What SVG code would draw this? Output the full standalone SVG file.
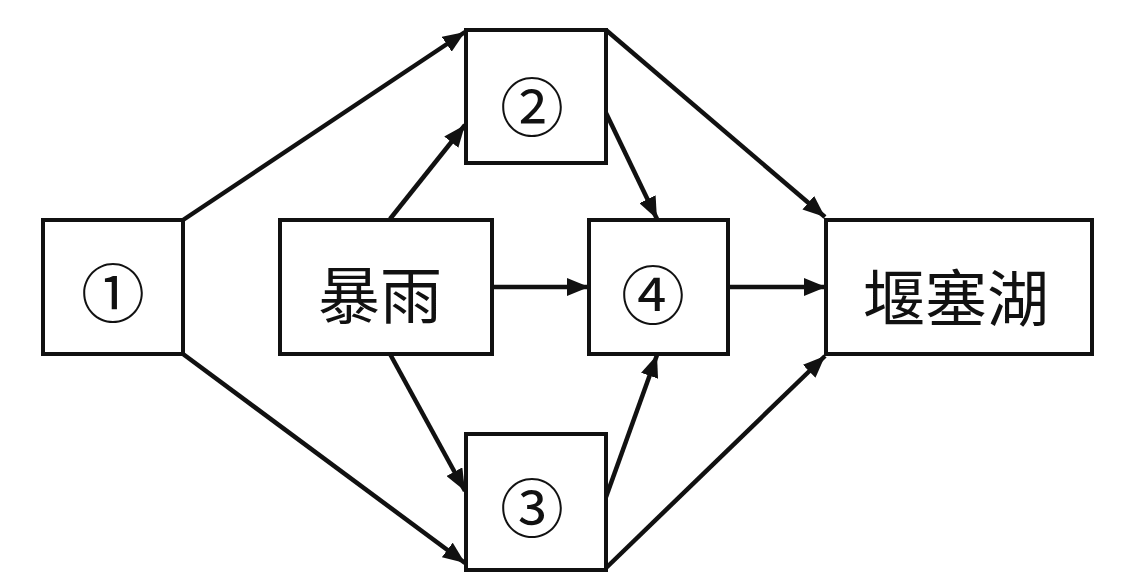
<svg xmlns="http://www.w3.org/2000/svg" width="1126" height="588" viewBox="0 0 1126 588">
<defs>
<style>
.box{fill:#fff;stroke:#111;stroke-width:4}
.lbl{font-family:"Noto Sans CJK SC","DejaVu Sans",sans-serif;font-size:62px;fill:#111;text-anchor:middle;dominant-baseline:central}
.num{font-family:"Noto Sans CJK SC","DejaVu Sans",sans-serif;font-size:64px;fill:#111;text-anchor:middle;dominant-baseline:central}
.edge{stroke:#111;stroke-width:4.5;fill:none;marker-end:url(#ah)}
</style>
<marker id="ah" markerUnits="userSpaceOnUse" viewBox="0 0 22 18" markerWidth="22" markerHeight="18" refX="22" refY="9" orient="auto">
<path d="M0,0 L22,9 L0,18 z" fill="#111"/>
</marker>
</defs>
<rect width="1126" height="588" fill="#fff"/>
<g id="connectors">
<line class="edge" x1="183" y1="220" x2="465" y2="32"/>
<line class="edge" x1="390" y1="219" x2="465" y2="125"/>
<line class="edge" x1="183" y1="354" x2="465" y2="563"/>
<line class="edge" x1="390" y1="354" x2="465" y2="491"/>
<line class="edge" x1="606" y1="113" x2="657" y2="219"/>
<line class="edge" x1="606" y1="30" x2="825" y2="217"/>
<line class="edge" x1="492" y1="287" x2="589" y2="287"/>
<line class="edge" x1="728" y1="287" x2="826" y2="287"/>
<line class="edge" x1="606" y1="497" x2="657" y2="355"/>
<line class="edge" x1="606" y1="568" x2="825" y2="356"/>
</g>
<g id="n1"><rect class="box" x="43" y="220" width="140" height="134"/><text class="num" x="113" y="289">①</text></g>
<g id="rain"><rect class="box" x="280" y="220" width="212" height="134"/><text class="lbl" x="380" y="292">暴雨</text></g>
<g id="n2"><rect class="box" x="466" y="30" width="140" height="133"/><text class="num" x="532" y="103">②</text></g>
<g id="n3"><rect class="box" x="466" y="434" width="140" height="136"/><text class="num" x="532" y="504">③</text></g>
<g id="n4"><rect class="box" x="589" y="220" width="139" height="134"/><text class="num" x="653" y="291">④</text></g>
<g id="lake"><rect class="box" x="826" y="220" width="266" height="134"/><text class="lbl" x="956" y="295">堰塞湖</text></g>
</svg>
